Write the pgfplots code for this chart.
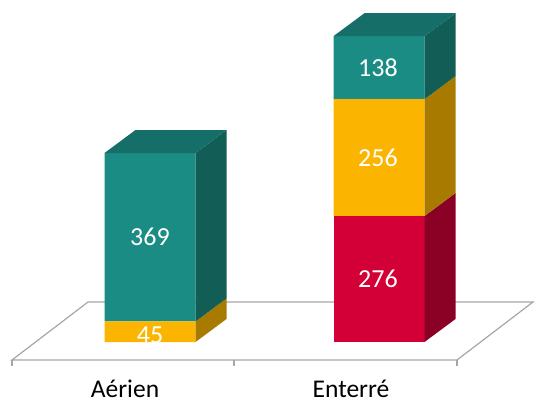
\documentclass[border=0pt]{standalone}
\usepackage{pgfplots}
\pgfplotsset{compat=1.18}
\usepackage{fontspec}
\setmainfont{Carlito}

\definecolor{tealF}{HTML}{1A8C84}
\definecolor{tealS}{HTML}{125E57}
\definecolor{tealT}{HTML}{156F68}
\definecolor{yelF}{HTML}{FBB500}
\definecolor{yelS}{HTML}{A87A00}
\definecolor{redF}{HTML}{D20036}
\definecolor{redS}{HTML}{8B0025}
\definecolor{floorC}{HTML}{A6A6A6}

\pgfplotsset{frame3d/.style={
  scale only axis, width=535bp, height=403bp,
  xmin=0, xmax=535, ymin=-133.6, ymax=749.2,
  hide axis, clip=false}}

\begin{document}
\begin{tikzpicture}
% floor (perspective plane) and ticks
\begin{axis}[frame3d]
\path (rel axis cs:0,0) rectangle (rel axis cs:1,1);
\addplot[draw=floorC, line width=1.2pt, fill=white]
  coordinates {(12,-39.4)(457,-39.4)(533,87.6)(88,87.6)} -- cycle;
\addplot[draw=floorC, line width=1.2pt] coordinates {(12,-39.4)(12,-52.6)};
\addplot[draw=floorC, line width=1.2pt] coordinates {(234,-39.4)(234,-52.6)};
\addplot[draw=floorC, line width=1.2pt] coordinates {(457,-39.4)(457,-52.6)};
\node[anchor=base, font=\fontsize{25.5bp}{30bp}\selectfont] at (axis cs:125,-121) {Aérien};
\node[anchor=base, font=\fontsize{25.5bp}{30bp}\selectfont] at (axis cs:351,-121) {Enterré};
\end{axis}

% front faces (stacked values)
\begin{axis}[frame3d, ybar stacked, bar width=91]
\addplot[fill=redF, draw=none] coordinates {(150,0)(379,276)};
\addplot[fill=yelF, draw=none] coordinates {(150,45)(379,256)};
\addplot[fill=tealF, draw=none] coordinates {(150,369)(379,138)};
\end{axis}

% side and top faces
\begin{axis}[frame3d]
\addplot[fill=yelS, draw=none]
  coordinates {(195.5,0)(226.5,50.4)(226.5,95.4)(195.5,45)} -- cycle;
\addplot[fill=tealS, draw=none]
  coordinates {(195.5,45)(226.5,95.4)(226.5,464.4)(195.5,414)} -- cycle;
\addplot[fill=tealT, draw=none]
  coordinates {(104.5,414)(195.5,414)(226.5,464.4)(135.5,464.4)} -- cycle;
\addplot[fill=redS, draw=none]
  coordinates {(424.5,0)(455.5,50.4)(455.5,326.4)(424.5,276)} -- cycle;
\addplot[fill=yelS, draw=none]
  coordinates {(424.5,276)(455.5,326.4)(455.5,582.4)(424.5,532)} -- cycle;
\addplot[fill=tealS, draw=none]
  coordinates {(424.5,532)(455.5,582.4)(455.5,720.4)(424.5,670)} -- cycle;
\addplot[fill=tealT, draw=none]
  coordinates {(333.5,670)(424.5,670)(455.5,720.4)(364.5,720.4)} -- cycle;

% value labels
\begin{scope}[every node/.style={text=white, font=\fontsize{26bp}{30bp}\selectfont, anchor=center}]
\node at (axis cs:150,14) {45};
\node at (axis cs:150,229.5) {369};
\node at (axis cs:378,138) {276};
\node at (axis cs:378,404) {256};
\node at (axis cs:378,601) {138};
\end{scope}
\end{axis}
\end{tikzpicture}
\end{document}
